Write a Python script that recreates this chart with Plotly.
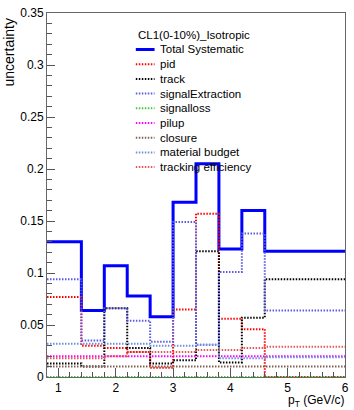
import plotly.graph_objects as go

# pT bin edges (GeV/c) and per-bin relative uncertainties
pt_edges = [0.8, 1.4, 1.8, 2.2, 2.6, 3.0, 3.4, 3.8, 4.2, 4.6, 6.0]
total_syst = [0.130, 0.064, 0.107, 0.078, 0.058, 0.168, 0.205, 0.123, 0.160, 0.121]
pid = [0.077, 0.030, 0.028, 0.024, 0.009, 0.065, 0.157, 0.056, 0.046, 0.000]
track = [0.013, 0.010, 0.066, 0.028, 0.013, 0.016, 0.121, 0.014, 0.057, 0.094]
signal_extraction = [0.094, 0.035, 0.066, 0.054, 0.034, 0.149, 0.031, 0.101, 0.138, 0.064]
signal_loss = [0.0, 0.0, 0.0, 0.0, 0.0, 0.0, 0.0, 0.0, 0.0, 0.0]
pileup = [0.020, 0.020, 0.020, 0.020, 0.020, 0.020, 0.020, 0.020, 0.020, 0.020]
closure = [0.010, 0.010, 0.010, 0.010, 0.010, 0.010, 0.010, 0.010, 0.010, 0.010]
material_budget = [0.032, 0.032, 0.032, 0.032, 0.030, 0.030, 0.031, 0.018, 0.018, 0.019]
tracking_eff = [0.018, 0.018, 0.020, 0.024, 0.024, 0.024, 0.026, 0.026, 0.028, 0.029]

legend_header = "CL1(0-10%)_Isotropic"
series_names = ["Total Systematic", "pid", "track", "signalExtraction", "signalloss",
                "pilup", "closure", "material budget", "tracking efficiency"]
series_values = [total_syst, pid, track, signal_extraction, signal_loss,
                 pileup, closure, material_budget, tracking_eff]

DOT = "1.5px,1.5px"
styles = [
    dict(color="#0000ff", width=3, dash="solid"),
    dict(color="#ff0000", width=2, dash=DOT),
    dict(color="#000000", width=2, dash=DOT),
    dict(color="#5a5ae6", width=2, dash=DOT),
    dict(color="#3ccc3c", width=2, dash=DOT),
    dict(color="#ff00ff", width=2, dash=DOT),
    dict(color="#80604f", width=2, dash=DOT),
    dict(color="#6a8fdc", width=2, dash=DOT),
    dict(color="#e05a5a", width=2, dash=DOT),
]

W, H = 354, 410
L, R, T, B = 47, 5, 13, 33
PW, PH = W - L - R, H - T - B


def px_x(px):
    return (px - L) / PW


def px_y(py):
    return (H - B - py) / PH


fig = go.Figure()
for name, vals, st in zip(series_names, series_values, styles):
    fig.add_trace(go.Scatter(
        x=pt_edges, y=list(vals) + [vals[-1]], mode="lines",
        line=dict(shape="hv", **st), name=name, showlegend=False,
        hoverinfo="skip",
    ))

font = "Liberation Sans, Arial, Helvetica, sans-serif"
shapes = []
annotations = []

# hand-placed legend block
annotations.append(dict(x=px_x(137), y=px_y(35), xref="paper", yref="paper",
                        text=legend_header, showarrow=False, xanchor="left",
                        yanchor="middle", font=dict(size=11.5, color="#000", family=font)))
for i, (name, st) in enumerate(zip(series_names, styles)):
    yy = px_y(49.5 + 14.7 * i)
    shapes.append(dict(type="line", xref="paper", yref="paper",
                       x0=px_x(137), x1=px_x(156), y0=yy, y1=yy,
                       line=dict(color=st["color"], width=st["width"], dash=st["dash"])))
    annotations.append(dict(x=px_x(159), y=yy, xref="paper", yref="paper",
                            text=name, showarrow=False, xanchor="left", yanchor="middle",
                            font=dict(size=11.5, color="#000", family=font)))

# axis titles
annotations.append(dict(x=px_x(349), y=px_y(410), xref="paper", yref="paper",
                        text="p<sub>T</sub> (GeV/c)", showarrow=False, xanchor="right",
                        yanchor="bottom", borderpad=0,
                        font=dict(size=12, color="#000", family=font)))
annotations.append(dict(x=px_x(8), y=px_y(17), xref="paper", yref="paper",
                        text="uncertainty", textangle=-90, showarrow=False,
                        xanchor="center", yanchor="top",
                        font=dict(size=14, color="#000", family=font)))

axis_common = dict(showline=True, linecolor="#666", linewidth=1, mirror=True,
                   ticks="inside", tickcolor="#555", showgrid=False, zeroline=False,
                   tickfont=dict(size=12, color="#000", family=font))

fig.update_layout(
    width=W, height=H,
    margin=dict(l=L, r=R, t=T, b=B, pad=0),
    paper_bgcolor="white", plot_bgcolor="white",
    showlegend=False,
    shapes=shapes, annotations=annotations,
    xaxis=dict(range=[0.8, 6.0], tickvals=[1, 2, 3, 4, 5, 6], ticklen=9,
               minor=dict(dtick=0.2, tick0=0, ticks="inside", ticklen=5, tickcolor="#555"),
               **axis_common),
    yaxis=dict(range=[0, 0.35], tickvals=[0, 0.05, 0.1, 0.15, 0.2, 0.25, 0.3, 0.35],
               ticktext=["0", "0.05", "0.1", "0.15", "0.2", "0.25", "0.3", "0.35"],
               ticklen=8,
               minor=dict(dtick=0.01, tick0=0, ticks="inside", ticklen=5, tickcolor="#555"),
               **axis_common),
)

fig.write_html("out.html")
